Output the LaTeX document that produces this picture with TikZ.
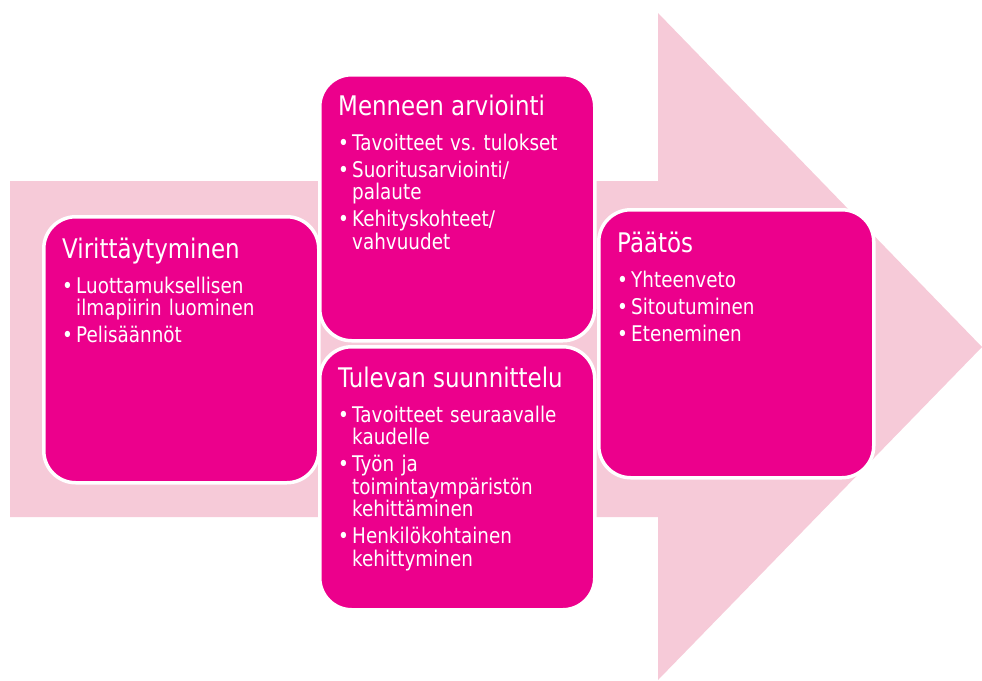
\documentclass[tikz,border=0pt]{standalone}
\usepackage{fontspec}
\setmainfont{DejaVu Sans}[FakeStretch=0.85]
\frenchspacing
\definecolor{stagepink}{RGB}{236,0,140}
\definecolor{arrowpink}{RGB}{246,202,216}
\newcommand{\stagehead}[1]{{\fontsize{27}{27}\selectfont\rule{0pt}{30pt}#1\par}\vspace{8pt}}
\newcommand{\stagept}[1]{\par\hangindent=14pt\hangafter=1\noindent\makebox[14pt][l]{\textbullet}#1\par}
\tikzset{
  stage/.style={draw=white, line width=3.5pt, fill=stagepink, rounded corners=32pt,
    minimum width=275pt, minimum height=266pt, anchor=north west, inner sep=0pt},
  stagetext/.style={anchor=north west, inner sep=0pt, text width=245pt, align=left,
    text=white, font=\fontsize{21.6}{22.5}\selectfont,
    execute at begin node={\setlength{\parskip}{4.5pt}}}
}
\begin{document}
\begin{tikzpicture}[x=1pt,y=-1pt]
    \useasboundingbox (0,0) rectangle (982,680);
    \fill[arrowpink] (10,181) -- (658,181) -- (658,13) -- (982,347) -- (658,680) -- (658,517) -- (10,517) -- cycle;
    \node[stage] (viri) at (42,215) {};
    \node[stage] (menneen) at (318,73) {};
    \node[stage, minimum height=263pt] (tulevan) at (318,345) {};
    \node[stage, minimum height=268pt] (paatos) at (597,208) {};
    \node[stagetext] (viri-t) at ([xshift=20pt,yshift=-13pt]viri.north west) {%
        \stagehead{Virittäytyminen}
        \stagept{Luottamuksellisen\newline ilmapiirin luominen}
        \stagept{Pelisäännöt}};
    \node[stagetext] (menneen-t) at ([xshift=20pt,yshift=-12pt]menneen.north west) {%
        \stagehead{Menneen arviointi}
        \stagept{Tavoitteet vs. tulokset}
        \stagept{Suoritusarviointi/\newline palaute}
        \stagept{Kehityskohteet/\newline vahvuudet}};
    \node[stagetext] (tulevan-t) at ([xshift=20pt,yshift=-12pt]tulevan.north west) {%
        \stagehead{Tulevan suunnittelu}
        \stagept{Tavoitteet seuraavalle\newline kaudelle}
        \stagept{Työn ja\newline toimintaympäristön\newline kehittäminen}
        \stagept{Henkilökohtainen\newline kehittyminen}};
    \node[stagetext] (paatos-t) at ([xshift=20pt,yshift=-14pt]paatos.north west) {%
        \stagehead{Päätös}
        \stagept{Yhteenveto}
        \stagept{Sitoutuminen}
        \stagept{Eteneminen}};
\end{tikzpicture}
\end{document}
